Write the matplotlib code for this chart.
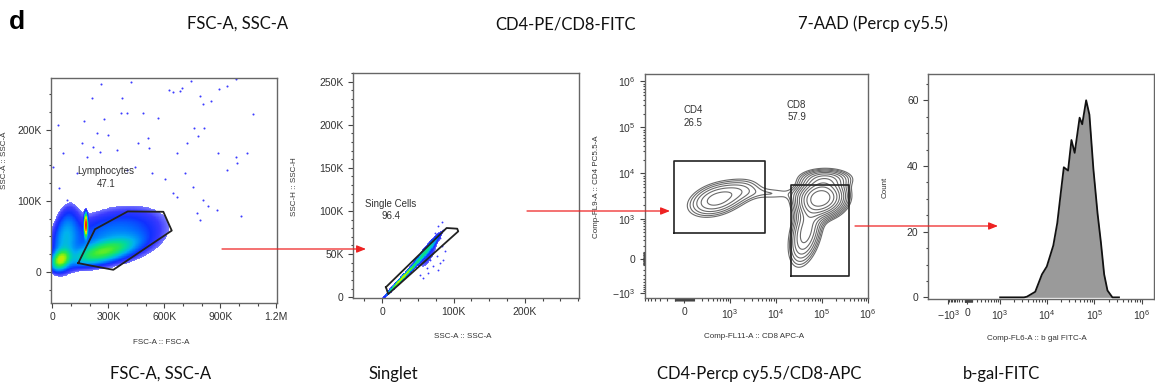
import numpy as np
import matplotlib
matplotlib.use('Agg')
import matplotlib.pyplot as plt
from matplotlib.colors import LinearSegmentedColormap, LogNorm
from matplotlib.ticker import FixedLocator, MultipleLocator, NullFormatter

plt.rcParams['font.family'] = ['Liberation Sans', 'DejaVu Sans']

# ---- panel 1: FSC-A vs SSC-A (values in K) ----
# density components: cx, cy, sx, sy, rho, peak
p1_comps = [(45, 17, 28, 8, 0.3, 1.0),
            (270, 28, 100, 11, 0.6, 0.7),
            (330, 50, 190, 28, 0.3, 0.3),
            (70, 48, 45, 30, 0.3, 0.3),
            (180, 66, 5, 8, 0.0, 3.5)]
p1_dots_x = [261, 420, 684, 743, 982, 934, 895, 372, 627, 648, 695, 793, 848, 809, 1073,
             565, 484, 366, 402, 277, 238, 300, 170, 32, 59, 5, 38, 77, 220, 256, 345,
             461, 514, 516, 720, 666, 759, 811, 782, 982, 1041, 991, 936, 889, 711, 755,
             809, 836, 881, 1009, 773, 791, 666, 648, 604, 532, 443, 399, 184, 157, 131, 211]
p1_dots_y = [264, 268, 255, 269, 272, 262, 257, 245, 256, 253, 259, 247, 240, 237, 222,
             217, 223, 223, 223, 215, 195, 193, 212, 207, 167, 148, 118, 101, 176, 169, 171,
             181, 188, 174, 182, 167, 202, 202, 191, 162, 167, 153, 144, 167, 139, 120,
             101, 92, 87, 79, 83, 73, 106, 111, 130, 139, 148, 144, 162, 181, 139, 245]
p1_gate_x = [139, 229, 404, 595, 640, 327, 202, 139]
p1_gate_y = [12.2, 60, 85, 84.5, 58, 2.8, 8.9, 12.2]

# ---- panel 2: SSC-A vs SSC-H (values in K) ----
p2_comps = [(28, 22, 12, 10.5, 0.988, 1.0),
            (60, 52, 12, 12, 0.965, 0.4),
            (66, 50, 10, 14, 0.8, 0.09)]
p2_dots_x = [83.3, 78.6, 85.6, 73.9, 80.9, 71.5, 83.3, 87.9, 76.3, 66.9, 80.9, 71.5, 62.3,
             64.5, 52.9, 85.6, 78.5, 57.5]
p2_dots_y = [86.7, 82.1, 78.3, 74.4, 68.6, 64.7, 58.8, 53.0, 47.2, 43.4, 39.5, 35.6, 33.7,
             27.9, 25.9, 43.4, 31.7, 22.1]
p2_gate_x = [5.2, 90.3, 105.2, 106.6, 8.4, 5.2]
p2_gate_y = [11.6, 80.2, 79.4, 76.3, 3.5, 11.6]

# ---- panel 3: CD8 APC vs CD4 PC5.5 contours ----
# cx, cy (fluorescence), sx, sy (decades), rho, peak
p3_comps = [(500, 2730, 0.36, 0.22, 0.35, 0.22),
            (2000, 4340, 0.28, 0.17, 0.2, 0.07),
            (9000, 3620, 0.32, 0.10, 0.0, 0.055),
            (95000, 2900, 0.27, 0.21, 0.1, 1.0),
            (45000, 513, 0.2, 0.4, 0.4, 0.3),
            (120000, 7760, 0.32, 0.12, 0.0, 0.2)]
cd4_gate = (-112, 5800, 477, 18200)
cd8_gate = (21000, 390000, -317, 5580)

# ---- panel 4: b-gal FITC histogram ----
hist_x = [1000, 3300, 3800, 5700, 7900, 10000, 13700, 16600, 19500, 22800, 28000, 33000,
          38600, 49000, 55600, 67300, 78800, 95500, 117000, 137600, 161000, 189000,
          240000, 330000]
hist_y = [0, 0, 0.2, 1.7, 7.0, 9.4, 15.8, 22.6, 31.3, 39.6, 38.6, 47.9, 44.0, 54.7, 52.7,
          60.0, 55.6, 39.1, 25.5, 16.7, 7.0, 2.1, 0, 0]

W, H = 1155, 388
fig = plt.figure(figsize=(W / 100, H / 100), dpi=100)


def box(x0, y0, x1, y1):
    return [x0 / W, 1 - y1 / H, (x1 - x0) / W, (y1 - y0) / H]


def mix(X, Y, comps):
    Z = np.zeros_like(X)
    for cx, cy, sx, sy, r, a in comps:
        dx = (X - cx) / sx
        dy = (Y - cy) / sy
        q = (dx ** 2 - 2 * r * dx * dy + dy ** 2) / (1 - r ** 2)
        Z += a * np.exp(-0.5 * q)
    return Z


def biex(a, neg=1.0):
    L = np.log(10)

    def fwd(x):
        x = np.asarray(x, dtype=float)
        u = np.arcsinh(x / a) / L
        return np.where(u < 0, u * neg, u)

    def inv(u):
        u = np.clip(np.asarray(u, dtype=float), -12, 12)
        u = np.where(u < 0, u / neg, u)
        return a * np.sinh(u * L)
    return fwd, inv


def style(ax):
    for s in ax.spines.values():
        s.set_color('#666666')
        s.set_linewidth(1.0)
    ax.tick_params(which='both', direction='out', colors='#444444', labelcolor='#333333',
                   labelsize=7.5, width=0.8)
    ax.tick_params(which='major', length=3.3, pad=3.5)
    ax.tick_params(which='minor', length=1.8)


def biex_ticks(ax, axis, majors, labels):
    minors = [v for v in range(-900, 0, 100)] + [v for v in range(-90, 100, 10)] + \
             [v for v in range(100, 1000, 100)]
    for d in [1e3, 1e4, 1e5]:
        minors += [k * d for k in range(2, 10)]
    a = ax.xaxis if axis == 'x' else ax.yaxis
    a.set_major_locator(FixedLocator(majors))
    a.set_minor_locator(FixedLocator(minors))
    a.set_minor_formatter(NullFormatter())
    if axis == 'x':
        ax.set_xticklabels(labels)
    else:
        ax.set_yticklabels(labels)


cmap = LinearSegmentedColormap.from_list(
    'fj', ['#7a7aff', '#3a3aff', '#1030ff', '#0070ff', '#00b0f0', '#00d8a0', '#30e840',
           '#b0f000', '#ffd000', '#ff6000', '#ff1000'])

# panel 1
ax1 = fig.add_axes(box(51, 78, 277, 303))
gx, gy = np.meshgrid(np.linspace(-7, 1204, 600), np.linspace(-44, 273, 360))
Z = mix(gx, gy, p1_comps)
Z = np.ma.masked_less(Z, 0.09)
ax1.pcolormesh(gx * 1e3, gy * 1e3, Z, cmap=cmap, norm=LogNorm(0.09, 3.5), shading='auto',
               rasterized=True)
ax1.scatter(np.array(p1_dots_x) * 1e3, np.array(p1_dots_y) * 1e3, s=2.2, color='#3c3cff',
            linewidths=0)
ax1.plot(np.array(p1_gate_x) * 1e3, np.array(p1_gate_y) * 1e3, color='#222222', lw=1.3)
ax1.text(288e3, 133e3, 'Lymphocytes\n47.1', ha='center', va='center', fontsize=7,
         color='#333333', linespacing=1.3)
ax1.set_xlim(-7e3, 1.204e6)
ax1.set_ylim(-44e3, 273e3)
ax1.xaxis.set_major_locator(FixedLocator([0, 3e5, 6e5, 9e5, 1.2e6]))
ax1.set_xticklabels(['0', '300K', '600K', '900K', '1.2M'])
ax1.xaxis.set_minor_locator(MultipleLocator(1e5))
ax1.yaxis.set_major_locator(FixedLocator([0, 1e5, 2e5]))
ax1.set_yticklabels(['0', '100K', '200K'])
ax1.yaxis.set_minor_locator(MultipleLocator(2.5e4))
style(ax1)

# panel 2
ax2 = fig.add_axes(box(353, 73, 579, 298))
gx, gy = np.meshgrid(np.linspace(-41, 276, 420), np.linspace(-1, 260, 360))
Z = mix(gx, gy, p2_comps)
Z = np.ma.masked_less(Z, 0.05)
ax2.pcolormesh(gx * 1e3, gy * 1e3, Z, cmap=cmap, norm=LogNorm(0.05, 3.0), shading='auto',
               rasterized=True)
ax2.scatter(np.array(p2_dots_x) * 1e3, np.array(p2_dots_y) * 1e3, s=1.8, color='#3c3cff',
            linewidths=0)
ax2.plot(np.array(p2_gate_x) * 1e3, np.array(p2_gate_y) * 1e3, color='#222222', lw=1.3)
ax2.text(12e3, 101e3, 'Single Cells\n96.4', ha='center', va='center', fontsize=7,
         color='#333333', linespacing=1.3)
ax2.set_xlim(-41e3, 276e3)
ax2.set_ylim(-1e3, 260e3)
ax2.xaxis.set_major_locator(FixedLocator([0, 1e5, 2e5]))
ax2.set_xticklabels(['0', '100K', '200K'])
ax2.xaxis.set_minor_locator(MultipleLocator(2.5e4))
ax2.yaxis.set_major_locator(FixedLocator([0, 5e4, 1e5, 1.5e5, 2e5, 2.5e5]))
ax2.set_yticklabels(['0', '50K', '100K', '150K', '200K', '250K'])
ax2.yaxis.set_minor_locator(MultipleLocator(1e4))
style(ax2)

# panel 3
fx3, ix3 = biex(202)
fy3, iy3 = biex(276, 0.85)
ax3 = fig.add_axes(box(645, 74, 868, 298))
ax3.set_xscale('function', functions=(fx3, ix3))
ax3.set_yscale('function', functions=(fy3, iy3))
ux, uy = np.meshgrid(np.linspace(-0.9, 4.05, 360), np.linspace(-0.9, 4.1, 360))
Z = np.zeros_like(ux)
for cx, cy, sx, sy, r, a in p3_comps:
    Z += mix(ux, uy, [(float(fx3(cx)), float(fy3(cy)), sx, sy, r, a)])
levels = 0.045 * 1.33 ** np.arange(0, 11)
ax3.contour(ix3(ux), iy3(uy), Z, levels=levels, colors='#6a6a6a', linewidths=0.8)
for x0, x1, y0, y1 in [cd4_gate, cd8_gate]:
    ax3.plot([x0, x1, x1, x0, x0], [y0, y0, y1, y1, y0], color='#222222', lw=1.2)
ax3.text(0.215, 0.81, 'CD4\n26.5', transform=ax3.transAxes, ha='center', va='center',
         fontsize=7, color='#333333', linespacing=1.3)
ax3.text(0.68, 0.835, 'CD8\n57.9', transform=ax3.transAxes, ha='center', va='center',
         fontsize=7, color='#333333', linespacing=1.3)
ax3.set_xlim(-700, 1.0e6)
ax3.set_ylim(-1360, 1.45e6)
biex_ticks(ax3, 'x', [0, 1e3, 1e4, 1e5, 1e6],
           ['0', r'$\mathregular{10^3}$', r'$\mathregular{10^4}$', r'$\mathregular{10^5}$',
            r'$\mathregular{10^6}$'])
biex_ticks(ax3, 'y', [-1e3, 0, 1e3, 1e4, 1e5, 1e6],
           [r'$\mathregular{-10^3}$', '0', r'$\mathregular{10^3}$', r'$\mathregular{10^4}$',
            r'$\mathregular{10^5}$', r'$\mathregular{10^6}$'])
style(ax3)

# panel 4
fx4, ix4 = biex(425, 0.58)
ax4 = fig.add_axes(box(928, 74, 1154, 299))
ax4.set_xscale('function', functions=(fx4, ix4))
ax4.fill_between(hist_x, hist_y, 0, color='#9a9a9a', lw=0)
ax4.plot(hist_x, hist_y, color='#111111', lw=1.3)
ax4.set_xlim(-5650, 1.8e6)
ax4.set_ylim(-0.5, 68)
biex_ticks(ax4, 'x', [-1e3, 0, 1e3, 1e4, 1e5, 1e6],
           [r'$\mathregular{-10^3}$', '0', r'$\mathregular{10^3}$', r'$\mathregular{10^4}$',
            r'$\mathregular{10^5}$', r'$\mathregular{10^6}$'])
ax4.yaxis.set_major_locator(FixedLocator([0, 20, 40, 60]))
ax4.yaxis.set_minor_locator(MultipleLocator(5))
style(ax4)

# overlay: captions, axis titles, arrows
ov = fig.add_axes([0, 0, 1, 1])
ov.set_xlim(0, W)
ov.set_ylim(H, 0)
ov.axis('off')
ov.patch.set_alpha(0)

ov.text(9, 22, 'd', fontsize=19, fontweight='bold', ha='left', va='center')
cap = dict(fontsize=12, family=['Lato', 'DejaVu Sans'], ha='center', va='center',
           color='#111111')
for x, t in [(238, 'FSC-A, SSC-A'), (566, 'CD4-PE/CD8-FITC'), (873, '7-AAD (Percp cy5.5)')]:
    ov.text(x, 24, t, **cap)
for x, t in [(161, 'FSC-A, SSC-A'), (393, 'Singlet'), (759, 'CD4-Percp cy5.5/CD8-APC'),
             (1001, 'b-gal-FITC')]:
    ov.text(x, 374, t, **cap)

lab = dict(fontsize=5.8, color='#333333', ha='center', va='center')
ov.text(161, 342, 'FSC-A :: FSC-A', **lab)
ov.text(463, 337, 'SSC-A :: SSC-A', **lab)
ov.text(754, 337, 'Comp-FL11-A :: CD8 APC-A', **lab)
ov.text(1037, 338, 'Comp-FL6-A :: b gal FITC-A', **lab)
ov.text(5, 160, 'SSC-A :: SSC-A', rotation=90, **lab)
ov.text(295, 187, 'SSC-H :: SSC-H', rotation=90, **lab)
ov.text(597, 187, 'Comp-FL9-A :: CD4 PC5.5-A', rotation=90, **lab)
ov.text(885, 187, 'Count', rotation=90, **lab)

arrows = [(222, 366, 249), (527, 670, 211), (855, 998, 226)]
for x0, x1, y in arrows:
    ov.annotate('', xy=(x1, y), xytext=(x0, y),
                arrowprops=dict(arrowstyle='-|>,head_length=0.55,head_width=0.22',
                                color='#ee2222', lw=0.9, shrinkA=0, shrinkB=0))

fig.savefig('out.png', dpi=100)
